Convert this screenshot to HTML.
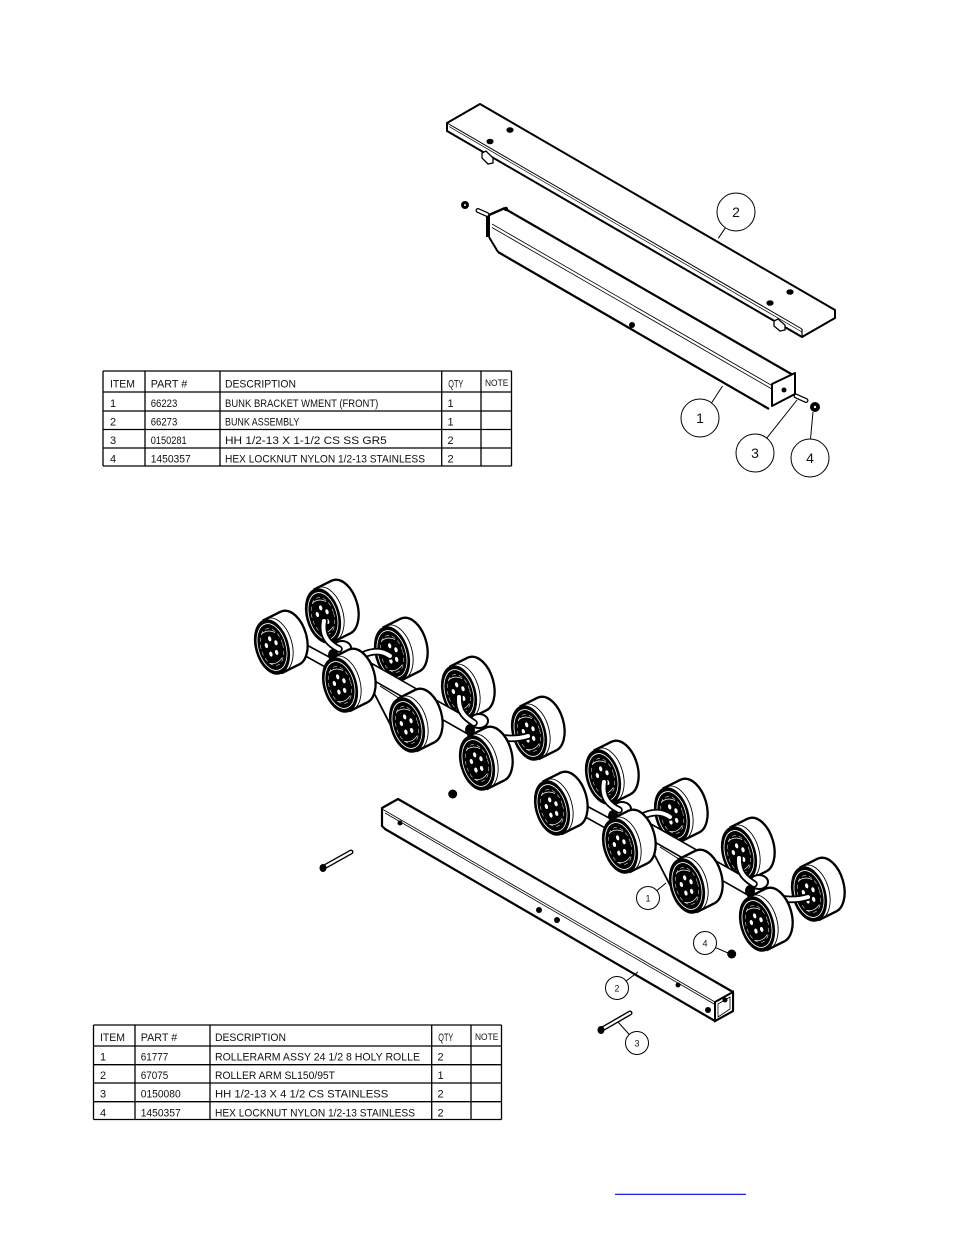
<!DOCTYPE html>
<html>
<head>
<meta charset="utf-8">
<style>
html,body{margin:0;padding:0;background:#fff;}
svg{display:block;}
text{font-family:"Liberation Sans",sans-serif;fill:#111;}
</style>
</head>
<body>
<svg width="954" height="1235" viewBox="0 0 954 1235" xmlns="http://www.w3.org/2000/svg">
<defs>
  <g id="roller">
    <ellipse cx="18" cy="-9" rx="16.5" ry="28" transform="rotate(-16 18 -9)" fill="#fff" stroke="#000" stroke-width="2.3"/>
    <polygon points="-9.4,-26.3 8.6,-35.3 27.4,17.3 9.4,26.3" fill="#fff"/>
    <line x1="-9.4" y1="-26.3" x2="8.6" y2="-35.3" stroke="#000" stroke-width="2.3"/>
    <line x1="9.4" y1="26.3" x2="27.4" y2="17.3" stroke="#000" stroke-width="2.3"/>
    <ellipse cx="3.5" cy="-1.7" rx="16.5" ry="28" transform="rotate(-16 3.5 -1.7)" fill="none" stroke="#000" stroke-width="0.9"/>
    <g transform="rotate(-16)">
      <ellipse rx="17" ry="28.5" fill="#000"/>
      <ellipse rx="14" ry="24" fill="none" stroke="#fff" stroke-width="0.8"/>
      <ellipse rx="11" ry="19" fill="none" stroke="#fff" stroke-width="0.5" stroke-dasharray="4 3"/>
      <ellipse cx="0" cy="-8.5" rx="1.6" ry="2.6" fill="#fff"/>
      <ellipse cx="5" cy="-3" rx="1.6" ry="2.6" fill="#fff"/>
      <ellipse cx="3" cy="6.5" rx="1.6" ry="2.6" fill="#fff"/>
      <ellipse cx="-3" cy="6.5" rx="1.6" ry="2.6" fill="#fff"/>
      <ellipse cx="-5" cy="-3" rx="1.6" ry="2.6" fill="#fff"/>
      <path d="M-7,-15 Q0,-19 7,-13" stroke="#fff" fill="none" stroke-width="0.7"/>
      <path d="M-7,15 Q0,19 7,13" stroke="#fff" fill="none" stroke-width="0.7"/>
    </g>
  </g>

  <g id="assy">
    <!-- back row -->
    <use href="#roller" x="529" y="733"/>
    <use href="#roller" x="459" y="693"/>
    <use href="#roller" x="392" y="654"/>
    <use href="#roller" x="323" y="616"/>
    <!-- bars -->
    <polygon points="303,643 331,658 327,668 300,653" fill="#fff" stroke="#000" stroke-width="1.6"/>
    <polygon points="348,650 473,721 466,733 350,667" fill="#fff" stroke="#000" stroke-width="1.6"/>
    <line x1="372" y1="689" x2="391" y2="726" stroke="#000" stroke-width="1.8"/>
    <line x1="380" y1="686" x2="402" y2="700" stroke="#000" stroke-width="1"/>
    <!-- hubs -->
    <ellipse cx="342" cy="648" rx="9" ry="7" fill="#fff" stroke="#000" stroke-width="2"/>
    <ellipse cx="333" cy="655" rx="5" ry="6" fill="#000"/>
    <ellipse cx="479" cy="721" rx="9" ry="7" fill="#fff" stroke="#000" stroke-width="2"/>
    <ellipse cx="470" cy="730" rx="5" ry="6" fill="#000"/>
    <!-- curved tubes -->
    <g fill="none" stroke-linecap="round">
      <path d="M324,621 C321,638 331,645 339,649" stroke="#000" stroke-width="7.5"/>
      <path d="M324,621 C321,638 331,645 339,649" stroke="#fff" stroke-width="4"/>
      <path d="M354,660 C366,652 379,648 390,656" stroke="#000" stroke-width="7.5"/>
      <path d="M354,660 C366,652 379,648 390,656" stroke="#fff" stroke-width="4"/>
      <path d="M459,697 C458,712 466,718 474,723" stroke="#000" stroke-width="7.5"/>
      <path d="M459,697 C458,712 466,718 474,723" stroke="#fff" stroke-width="4"/>
      <path d="M486,733 C500,739 515,740 528,736" stroke="#000" stroke-width="7.5"/>
      <path d="M486,733 C500,739 515,740 528,736" stroke="#fff" stroke-width="4"/>
    </g>
    <!-- front row -->
    <use href="#roller" x="272" y="647"/>
    <use href="#roller" x="340" y="685"/>
    <use href="#roller" x="407" y="725"/>
    <use href="#roller" x="477" y="763"/>
  </g>
</defs>

<!-- ============ TOP DRAWING ============ -->
<!-- Bunk board (part 2) -->
<polygon points="480,104 835,310 835,318 802,337 447,131 447,123" fill="#fff" stroke="#000" stroke-width="2" stroke-linejoin="round"/>
<line x1="447" y1="123" x2="802" y2="329" stroke="#000" stroke-width="1"/>
<line x1="449" y1="126.5" x2="802" y2="332" stroke="#000" stroke-width="0.7"/>
<line x1="802" y1="329" x2="802" y2="337" stroke="#000" stroke-width="1.2"/>
<!-- tabs under board -->
<polygon points="482,153 486,151 493,158 493,163 488,164 482,158" fill="#fff" stroke="#000" stroke-width="1.3"/>
<polygon points="774,321 778,319 785,325 785,330 780,331 774,326" fill="#fff" stroke="#000" stroke-width="1.3"/>
<!-- holes -->
<ellipse cx="510" cy="130" rx="3.6" ry="2.8" fill="#000"/>
<ellipse cx="490" cy="141.5" rx="3.6" ry="2.8" fill="#000"/>
<ellipse cx="790" cy="292" rx="3.6" ry="2.8" fill="#000"/>
<ellipse cx="770" cy="303" rx="3.6" ry="2.8" fill="#000"/>

<!-- Bunk bracket tube (part 1) -->
<polygon points="489,215 506,208 793,376 795,393 771,407 767,409 498,252 489,237" fill="#fff"/>
<line x1="507" y1="210" x2="793" y2="375" stroke="#000" stroke-width="2.2"/>
<line x1="488" y1="215" x2="488" y2="237" stroke="#000" stroke-width="4"/>
<line x1="489" y1="215" x2="505" y2="208" stroke="#000" stroke-width="2.4"/>
<circle cx="506" cy="209" r="2.2" fill="#000"/>
<line x1="489" y1="237" x2="498" y2="252" stroke="#000" stroke-width="2"/>
<line x1="498" y1="252" x2="769" y2="409" stroke="#000" stroke-width="2.2"/>
<line x1="492" y1="224" x2="771" y2="385" stroke="#000" stroke-width="0.8"/>
<line x1="492" y1="227.5" x2="771" y2="388.5" stroke="#000" stroke-width="0.8"/>
<polygon points="772,384 795,373 795,394 772,406" fill="#fff" stroke="#000" stroke-width="2" stroke-linejoin="round"/>
<circle cx="784" cy="390" r="2.5" fill="#000"/>
<circle cx="632" cy="325" r="3" fill="#000"/>
<!-- bolts / nuts top -->
<line x1="478" y1="210.5" x2="487" y2="214.5" stroke="#000" stroke-width="5" stroke-linecap="round"/>
<line x1="478" y1="210.5" x2="487" y2="214.5" stroke="#fff" stroke-width="2.4" stroke-linecap="round"/>
<circle cx="465" cy="205" r="4" fill="#000"/>
<circle cx="465" cy="205" r="1" fill="#fff"/>
<line x1="796" y1="396" x2="806" y2="400.5" stroke="#000" stroke-width="5" stroke-linecap="round"/>
<line x1="796" y1="396" x2="806" y2="400.5" stroke="#fff" stroke-width="2.4" stroke-linecap="round"/>
<circle cx="815" cy="407" r="5" fill="#000"/>
<circle cx="815" cy="407" r="1.2" fill="#fff"/>

<!-- Top callouts -->
<g fill="none" stroke="#000" stroke-width="1">
  <circle cx="736" cy="212" r="19"/>
  <line x1="718.3" y1="238.3" x2="725.4" y2="227.8"/>
  <circle cx="700" cy="418" r="19"/>
  <line x1="711.6" y1="402.9" x2="722.5" y2="386"/>
  <circle cx="755" cy="453" r="19"/>
  <line x1="766.8" y1="438.1" x2="797" y2="400"/>
  <circle cx="810" cy="458" r="19"/>
  <line x1="810.5" y1="439" x2="813" y2="412"/>
</g>
<g font-size="14" text-anchor="middle">
  <text x="736" y="217">2</text>
  <text x="700" y="423">1</text>
  <text x="755" y="458">3</text>
  <text x="810" y="463">4</text>
</g>

<!-- Top table -->
<g stroke="#000" stroke-width="1.3">
  <line x1="103" y1="371" x2="511.5" y2="371"/>
  <line x1="103" y1="392" x2="511.5" y2="392"/>
  <line x1="103" y1="411" x2="511.5" y2="411"/>
  <line x1="103" y1="429.5" x2="511.5" y2="429.5"/>
  <line x1="103" y1="448" x2="511.5" y2="448"/>
  <line x1="103" y1="466" x2="511.5" y2="466"/>
  <line x1="103" y1="371" x2="103" y2="466"/>
  <line x1="145" y1="371" x2="145" y2="466"/>
  <line x1="220" y1="371" x2="220" y2="466"/>
  <line x1="441.7" y1="371" x2="441.7" y2="466"/>
  <line x1="481" y1="371" x2="481" y2="466"/>
  <line x1="511.5" y1="371" x2="511.5" y2="466"/>
</g>
<g font-size="11">
  <text x="110" y="387.5" textLength="25" lengthAdjust="spacingAndGlyphs">ITEM</text>
  <text x="150.7" y="387.5" textLength="36.6" lengthAdjust="spacingAndGlyphs">PART #</text>
  <text x="225" y="387.5" textLength="71" lengthAdjust="spacingAndGlyphs">DESCRIPTION</text>
  <text x="448.3" y="387.5" textLength="15" lengthAdjust="spacingAndGlyphs">QTY</text>
  <text x="485" y="386" font-size="9" textLength="23.3" lengthAdjust="spacingAndGlyphs">NOTE</text>

  <text x="110" y="407">1</text>
  <text x="150.7" y="407" textLength="26.6" lengthAdjust="spacingAndGlyphs">66223</text>
  <text x="225" y="407" textLength="153.3" lengthAdjust="spacingAndGlyphs">BUNK BRACKET WMENT (FRONT)</text>
  <text x="447.5" y="407">1</text>

  <text x="110" y="425.5">2</text>
  <text x="150.7" y="425.5" textLength="26.6" lengthAdjust="spacingAndGlyphs">66273</text>
  <text x="225" y="425.5" textLength="74.3" lengthAdjust="spacingAndGlyphs">BUNK ASSEMBLY</text>
  <text x="447.5" y="425.5">1</text>

  <text x="110" y="444">3</text>
  <text x="150.7" y="444" textLength="36" lengthAdjust="spacingAndGlyphs">0150281</text>
  <text x="225" y="444" textLength="161.7" lengthAdjust="spacingAndGlyphs">HH 1/2-13 X 1-1/2 CS SS GR5</text>
  <text x="447.5" y="444">2</text>

  <text x="110" y="462.5">4</text>
  <text x="150.7" y="462.5" textLength="40" lengthAdjust="spacingAndGlyphs">1450357</text>
  <text x="225" y="462.5" textLength="200" lengthAdjust="spacingAndGlyphs">HEX LOCKNUT NYLON 1/2-13 STAINLESS</text>
  <text x="447.5" y="462.5">2</text>
</g>

<!-- ============ BOTTOM DRAWING ============ -->
<use href="#assy"/>
<use href="#assy" transform="translate(280,161)"/>

<!-- Roller arm tube (part 2) -->
<path d="M382,808 L398,799 L733,992 L733,1011 L715,1021 L385,829 L382,826 Z" fill="#fff" stroke="#000" stroke-width="2.2" stroke-linejoin="round"/>
<line x1="383" y1="809.5" x2="715" y2="1002" stroke="#000" stroke-width="0.8"/>
<line x1="385" y1="813" x2="715" y2="1004.5" stroke="#000" stroke-width="0.8"/>
<polygon points="715,1002 733,992 733,1011 715,1021" fill="#fff" stroke="#000" stroke-width="2"/>
<polygon points="718,1004 730,997 730,1009 718,1017" fill="none" stroke="#000" stroke-width="0.8"/>
<circle cx="400" cy="823" r="2.5" fill="#000"/>
<circle cx="539" cy="910" r="3" fill="#000"/>
<circle cx="557" cy="920" r="3" fill="#000"/>
<circle cx="678" cy="985" r="2.5" fill="#000"/>
<circle cx="708" cy="1010" r="3" fill="#000"/>
<circle cx="725" cy="1000" r="2.5" fill="#000"/>

<!-- bolts/nuts bottom -->
<line x1="326" y1="866" x2="351" y2="852" stroke="#000" stroke-width="5" stroke-linecap="round"/>
<line x1="326" y1="866" x2="351" y2="852" stroke="#fff" stroke-width="2.2" stroke-linecap="round"/>
<ellipse cx="323" cy="868" rx="3.5" ry="4" fill="#000"/>
<line x1="604" y1="1028" x2="630" y2="1013" stroke="#000" stroke-width="5" stroke-linecap="round"/>
<line x1="604" y1="1028" x2="630" y2="1013" stroke="#fff" stroke-width="2.2" stroke-linecap="round"/>
<ellipse cx="601" cy="1030" rx="3.5" ry="4" fill="#000"/>
<circle cx="452.7" cy="794" r="4.5" fill="#000"/>
<circle cx="731.7" cy="954" r="4.5" fill="#000"/>

<!-- bottom callouts -->
<g fill="#fff" stroke="#000" stroke-width="1">
  <circle cx="648" cy="898" r="11.5"/>
  <circle cx="705" cy="943" r="11.5"/>
  <circle cx="617" cy="988" r="11.5"/>
  <circle cx="637" cy="1043" r="11.5"/>
</g>
<g stroke="#000" stroke-width="1">
  <line x1="656.8" y1="890.6" x2="666" y2="883"/>
  <line x1="715.5" y1="947.6" x2="728" y2="953"/>
  <line x1="626.1" y1="981" x2="638" y2="972"/>
  <line x1="629.3" y1="1034.5" x2="618" y2="1022"/>
</g>
<g font-size="9" text-anchor="middle">
  <text x="648" y="901.5">1</text>
  <text x="705" y="946.5">4</text>
  <text x="617" y="991.5">2</text>
  <text x="637" y="1046.5">3</text>
</g>

<!-- Bottom table -->
<g stroke="#000" stroke-width="1.3">
  <line x1="93.5" y1="1025" x2="501.5" y2="1025"/>
  <line x1="93.5" y1="1046" x2="501.5" y2="1046"/>
  <line x1="93.5" y1="1064.7" x2="501.5" y2="1064.7"/>
  <line x1="93.5" y1="1083" x2="501.5" y2="1083"/>
  <line x1="93.5" y1="1101.7" x2="501.5" y2="1101.7"/>
  <line x1="93.5" y1="1119.5" x2="501.5" y2="1119.5"/>
  <line x1="93.5" y1="1025" x2="93.5" y2="1119.5"/>
  <line x1="135" y1="1025" x2="135" y2="1119.5"/>
  <line x1="210" y1="1025" x2="210" y2="1119.5"/>
  <line x1="431.7" y1="1025" x2="431.7" y2="1119.5"/>
  <line x1="471" y1="1025" x2="471" y2="1119.5"/>
  <line x1="501.5" y1="1025" x2="501.5" y2="1119.5"/>
</g>
<g font-size="11">
  <text x="100" y="1041" textLength="25" lengthAdjust="spacingAndGlyphs">ITEM</text>
  <text x="140.7" y="1041" textLength="36.6" lengthAdjust="spacingAndGlyphs">PART #</text>
  <text x="215" y="1041" textLength="71" lengthAdjust="spacingAndGlyphs">DESCRIPTION</text>
  <text x="438.3" y="1041" textLength="15" lengthAdjust="spacingAndGlyphs">QTY</text>
  <text x="475" y="1040" font-size="9" textLength="23.3" lengthAdjust="spacingAndGlyphs">NOTE</text>

  <text x="100" y="1060.5">1</text>
  <text x="140.7" y="1060.5" textLength="27.6" lengthAdjust="spacingAndGlyphs">61777</text>
  <text x="215" y="1060.5" textLength="205" lengthAdjust="spacingAndGlyphs">ROLLERARM ASSY 24 1/2  8 HOLY ROLLE</text>
  <text x="437.5" y="1060.5">2</text>

  <text x="100" y="1079">2</text>
  <text x="140.7" y="1079" textLength="27.6" lengthAdjust="spacingAndGlyphs">67075</text>
  <text x="215" y="1079" textLength="120" lengthAdjust="spacingAndGlyphs">ROLLER ARM SL150/95T</text>
  <text x="437.5" y="1079">1</text>

  <text x="100" y="1097.5">3</text>
  <text x="140.7" y="1097.5" textLength="40" lengthAdjust="spacingAndGlyphs">0150080</text>
  <text x="215" y="1097.5" textLength="173.3" lengthAdjust="spacingAndGlyphs">HH 1/2-13 X 4 1/2 CS STAINLESS</text>
  <text x="437.5" y="1097.5">2</text>

  <text x="100" y="1116.5">4</text>
  <text x="140.7" y="1116.5" textLength="40" lengthAdjust="spacingAndGlyphs">1450357</text>
  <text x="215" y="1116.5" textLength="200" lengthAdjust="spacingAndGlyphs">HEX LOCKNUT NYLON 1/2-13 STAINLESS</text>
  <text x="437.5" y="1116.5">2</text>
</g>

<!-- blue link underline -->
<line x1="615" y1="1194.3" x2="746" y2="1194.3" stroke="#0000ee" stroke-width="1.2"/>
</svg>
</body>
</html>
